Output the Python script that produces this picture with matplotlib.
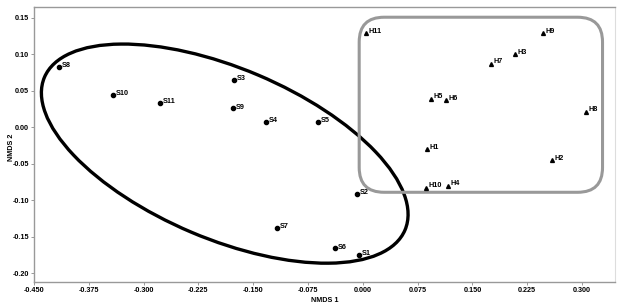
import matplotlib
matplotlib.use("Agg")
import matplotlib.pyplot as plt
from matplotlib.patches import Ellipse, FancyBboxPatch
import numpy as np

plt.rcParams['font.family'] = ['Liberation Sans', 'DejaVu Sans']
plt.rcParams['font.weight'] = 'bold'

# sites S (circles)
s_names = ["S1", "S2", "S3", "S4", "S5", "S6", "S7", "S8", "S9", "S10", "S11"]
s_x = [-0.005, -0.008, -0.176, -0.133, -0.062, -0.038, -0.118, -0.416, -0.178, -0.342, -0.278]
s_y = [-0.175, -0.091, 0.065, 0.007, 0.007, -0.166, -0.138, 0.083, 0.026, 0.044, 0.034]

# sites H (triangles)
h_names = ["H1", "H2", "H3", "H4", "H5", "H6", "H7", "H8", "H9", "H10", "H11"]
h_x = [0.088, 0.259, 0.208, 0.116, 0.093, 0.114, 0.175, 0.306, 0.246, 0.086, 0.004]
h_y = [-0.030, -0.045, 0.100, -0.080, 0.039, 0.037, 0.087, 0.021, 0.129, -0.083, 0.129]

x_ticks = [-0.450, -0.375, -0.300, -0.225, -0.150, -0.075, 0.000, 0.075, 0.150, 0.225, 0.300]
y_ticks = [-0.20, -0.15, -0.10, -0.05, 0.00, 0.05, 0.10, 0.15]

fig = plt.figure(figsize=(6.24, 3.05), dpi=100)
ax = fig.add_axes([0.0545, 0.0754, 0.931, 0.9016])

ax.plot(s_x, s_y, "o", color="black", markersize=3.0, zorder=3)
ax.plot(h_x, h_y, "^", color="black", markersize=2.8, zorder=3)
for n, x, y in zip(s_names, s_x, s_y):
    ax.annotate(n, (x, y), xytext=(2, 1), textcoords="offset points",
                fontsize=5.2, fontweight="bold", va="center")
for n, x, y in zip(h_names, h_x, h_y):
    ax.annotate(n, (x, y), xytext=(1.8, 1.5), textcoords="offset points",
                fontsize=5.2, fontweight="bold", va="center")

# group outlines
ell = Ellipse((-0.189, -0.036), 0.536, 0.234, angle=-23, fill=False,
              edgecolor="black", linewidth=2.4, zorder=2)
ax.add_patch(ell)
box = FancyBboxPatch((-0.005, -0.089), 0.333, 0.240,
                     boxstyle="round,pad=0,rounding_size=0.034",
                     fill=False, edgecolor="#999999", linewidth=2.2, zorder=2)
ax.add_patch(box)

ax.set_xlim(-0.45, 0.345)
ax.set_ylim(-0.212, 0.165)
ax.set_xticks(x_ticks)
ax.set_xticklabels([f"{v:.3f}" for v in x_ticks])
ax.set_yticks(y_ticks)
ax.set_yticklabels([f"{v:.2f}" for v in y_ticks])
ax.tick_params(labelsize=5.2, length=2, width=0.6, color="#888888", pad=1.5)
for lab in ax.get_xticklabels() + ax.get_yticklabels():
    lab.set_fontweight("bold")

for side in ["left", "bottom", "top"]:
    ax.spines[side].set_color("#999999")
    ax.spines[side].set_linewidth(1.0)
ax.spines["right"].set_color("#dddddd")

ax.set_xlabel("NMDS 1", fontsize=5.2, fontweight="bold", labelpad=2)
ax.set_ylabel("NMDS 2", fontsize=5.2, fontweight="bold")
ax.yaxis.set_label_coords(-0.033, 0.49)

fig.savefig("out.png", dpi=100)
